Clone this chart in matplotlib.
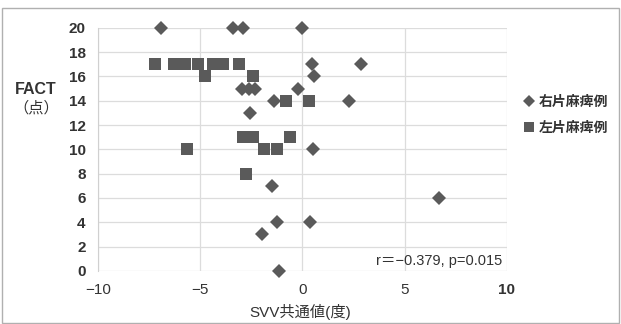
import matplotlib
matplotlib.use("Agg")
import matplotlib.pyplot as plt
from matplotlib.patches import Rectangle
from matplotlib.lines import Line2D

# Data: right hemiplegia (diamonds)
right_x = [-6.9, -3.4, -2.9, 0.0, 0.45, 2.85, 0.55, -2.95, -2.6, -2.3, -0.2,
           -1.4, 2.3, -2.55, 0.5, -1.5, 6.7, -1.25, 0.35, -2.0, -1.15]
right_y = [20, 20, 20, 20, 17, 17, 16, 15, 15, 15, 15,
           14, 14, 13, 10, 7, 6, 4, 4, 3, 0]
# left hemiplegia (squares)
left_x = [-7.2, -6.3, -5.75, -5.1, -4.4, -3.9, -3.1, -4.75, -2.4,
          -0.8, 0.3, -2.9, -2.4, -0.6, -5.65, -1.9, -1.25, -2.75]
left_y = [17, 17, 17, 17, 17, 17, 17, 16, 16,
          14, 14, 11, 11, 11, 10, 10, 10, 8]

x_ticks = [-10, -5, 0, 5, 10]
y_ticks = list(range(0, 21, 2))
legend_labels = ["右片麻痺例", "左片麻痺例"]
stat_text = "r＝−0.379, p=0.015"
xlabel = "SVV共通値(度)"
ylabel_top = "FACT"
ylabel_bottom = "（点）"

FONTS = ["Liberation Sans", "Noto Sans CJK JP", "DejaVu Sans"]
CJK = ["Noto Sans CJK JP", "DejaVu Sans"]
plt.rcParams["font.family"] = FONTS
plt.rcParams["axes.unicode_minus"] = True

mc = "#5a5a5a"
tc = "#333333"

fig = plt.figure(figsize=(6.21, 3.24), dpi=100)
fig.patches.append(Rectangle((0.004, 0.004), 0.992, 0.97, transform=fig.transFigure,
                             fill=False, edgecolor="#b0b0b0", linewidth=1.0))

ax = fig.add_axes([0.158, 0.164, 0.658, 0.750])
ax.set_xlim(-10, 10)
ax.set_ylim(0, 20)
ax.set_xticks(x_ticks)
ax.set_yticks(y_ticks)
ax.set_xticklabels([f"{v}".replace("-", "−") for v in x_ticks])
ax.grid(True, color="#dcdcdc", linewidth=0.9)
ax.set_axisbelow(True)
for s in ["top", "right", "bottom"]:
    ax.spines[s].set_visible(False)
ax.spines["left"].set_color("#d0d0d0")
ax.tick_params(axis="y", length=0, pad=9, labelsize=11, labelcolor=tc)
ax.tick_params(axis="x", length=0, pad=9, labelsize=11, labelcolor=tc)
for lab in ax.get_yticklabels():
    lab.set_fontweight("bold")
ax.get_xticklabels()[-1].set_fontweight("bold")

ax.plot(left_x, left_y, linestyle="none", marker="s", markersize=8.6,
        color=mc, markeredgewidth=0, clip_on=False, zorder=3)
ax.plot(right_x, right_y, linestyle="none", marker="D", markersize=6.8,
        color=mc, markeredgewidth=0, clip_on=False, zorder=4)

ax.text(9.8, 0.8, stat_text, ha="right", va="center", fontsize=10.5, color=tc)

fig.text(300 / 621, 1 - 312 / 324, xlabel, ha="center", va="center",
         fontsize=11, color=tc)
fig.text(36 / 621, 1 - 89 / 324, ylabel_top, ha="center", va="center",
         fontsize=11.5, color=tc, fontweight="bold")
fig.text(36 / 621, 1 - 108 / 324, ylabel_bottom, ha="center", va="center",
         fontsize=11, color=tc, family=CJK)

# legend
handles = [Line2D([], [], linestyle="none", marker="D", markersize=6, color=mc, markeredgewidth=0),
           Line2D([], [], linestyle="none", marker="s", markersize=7.5, color=mc, markeredgewidth=0)]
fig.legend(handles, legend_labels, loc="center left", bbox_to_anchor=(0.825, 0.645),
           frameon=False, handlelength=0.6, handletextpad=0.4, labelspacing=0.9,
           prop={"family": FONTS, "size": 10, "weight": "bold"}, labelcolor=tc)

fig.savefig("out.png", dpi=100)
